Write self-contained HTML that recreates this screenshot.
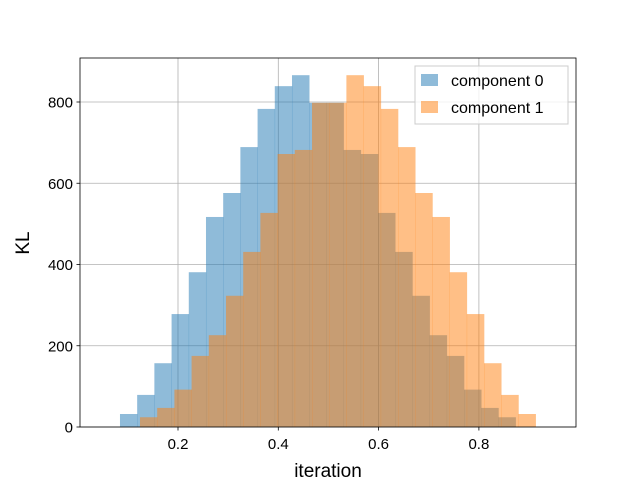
<!DOCTYPE html>
<html><head><meta charset="utf-8"><style>
body{margin:0;background:#fff}
svg{font-family:"Liberation Sans","DejaVu Sans",sans-serif}
</style></head><body>
<svg id="c" width="640" height="480" xmlns="http://www.w3.org/2000/svg">
<rect width="640" height="480" fill="#fff"/>
<g id="grid"></g><g id="bars"></g><g id="axes"></g>
<text x="328" y="477" font-size="19" text-anchor="middle">iteration</text>
<text x="29" y="243" font-size="19" text-anchor="middle" transform="rotate(-90 29 243)">KL</text>
<g>
<rect x="415" y="66" width="153" height="58" fill="#fff" fill-opacity="0.8" stroke="#ccc"/>
<rect x="421" y="74" width="17" height="12" fill="#1f77b4" fill-opacity="0.5"/>
<text x="451" y="86" font-size="16">component 0</text>
<rect x="421" y="101" width="17" height="12" fill="#ff7f0e" fill-opacity="0.5"/>
<text x="451" y="113" font-size="16">component 1</text>
</g>
</svg>
<script>
const comp0Counts=[32,79,157,278,381,517,576,689,783,839,866,798,798,682,672,527,431,323,226,175,92,47,24];
const comp1Counts=[24,47,92,175,226,323,431,527,672,682,798,798,866,839,783,689,576,517,381,278,157,79,32];
const comp0Start=0.0843, comp1Start=0.1242, binWidth=0.0343;
const xTicks=[0.2,0.4,0.6,0.8];
const yTicks=[0,200,400,600,800];
const L=80,R=576,T=58,B=427;
const sx=v=>77.7+v*501.5;
const sy=v=>B-v*0.40625;
const NS="http://www.w3.org/2000/svg";
function mk(tag,attrs,parent){const e=document.createElementNS(NS,tag);for(const k in attrs)e.setAttribute(k,attrs[k]);parent.appendChild(e);return e;}
const grid=document.getElementById('grid'),bars=document.getElementById('bars'),axes=document.getElementById('axes');
xTicks.forEach(t=>{
  const l=mk('line',{x1:sx(t),x2:sx(t),y1:T,y2:B,stroke:'#b0b0b0','stroke-width':0.8},grid);
  
  
  const tk=mk('line',{x1:sx(t),x2:sx(t),y1:B,y2:B+3.5,stroke:'#000','stroke-width':0.8},axes);
  
  
  const tx=mk('text',{x:sx(t),y:B+22,'font-size':15,'text-anchor':'middle'},axes);
  tx.textContent=t.toFixed(1);
  
  
});
yTicks.forEach(t=>{
  const l=mk('line',{x1:L,x2:R,y1:sy(t),y2:sy(t),stroke:'#b0b0b0','stroke-width':0.8},grid);
  
  
  const tk=mk('line',{x1:L-3.5,x2:L,y1:sy(t),y2:sy(t),stroke:'#000','stroke-width':0.8},axes);
  
  
  const tx=mk('text',{x:L-7,y:sy(t)+5.5,'font-size':15,'text-anchor':'end'},axes);
  tx.textContent=t;
  
  
});
function draw(counts,start,color,name){
  counts.forEach((c,i)=>{
    const x0=sx(start+i*binWidth),x1=sx(start+(i+1)*binWidth);
    const r=mk('rect',{x:x0,y:sy(c),width:x1-x0+0.3,height:B-sy(c),fill:color,'fill-opacity':0.5},bars);
    
    
  });
}
draw(comp0Counts,comp0Start,'#1f77b4','component-0');
draw(comp1Counts,comp1Start,'#ff7f0e','component-1');
const fr=mk('rect',{x:L,y:T,width:R-L,height:B-T,fill:'none',stroke:'#000','stroke-width':0.8},axes);


</script>
</body></html>
